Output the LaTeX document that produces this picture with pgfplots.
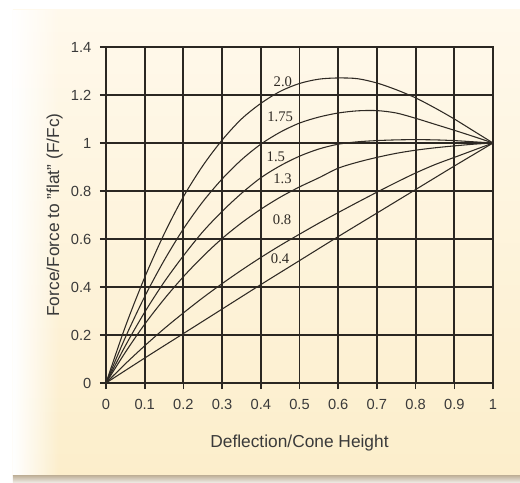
\documentclass[border=0pt]{standalone}
\usepackage{pgfplots}
\pgfplotsset{compat=1.18}
\usetikzlibrary{fadings}
\usepackage{fontspec}
\setmainfont{Liberation Sans}
\newfontfamily\serifnum{Liberation Serif}
\definecolor{creamtop}{HTML}{FFF9EC}
\definecolor{creambot}{HTML}{FCEECB}
\definecolor{gridc}{HTML}{2B2722}
\definecolor{curvec}{HTML}{2F2A24}
\definecolor{textc}{HTML}{3A3A3A}
\definecolor{shadowc}{HTML}{BDAE95}
\begin{document}
\begin{tikzpicture}
\useasboundingbox (-79.5pt,-74.25pt) rectangle (310.5pt,287.25pt);
\fill[white] (-79.5pt,-74.25pt) rectangle (310.5pt,287.25pt);
\shade[top color=creamtop, bottom color=creambot] (-69.75pt,-69pt) rectangle (310.5pt,279.75pt);
\fill[white, path fading=east] (-69.75pt,-69pt) rectangle (-35pt,279.75pt);
\shade[top color=shadowc, bottom color=white!70!shadowc] (-69.75pt,-74.25pt) rectangle (310.5pt,-69pt);
\begin{axis}[
  scale only axis,
  width=290.25pt, height=252pt,
  at={(0,0)}, anchor=south west,
  xmin=0, xmax=1, ymin=0, ymax=1.4,
  xtick={0,0.1,0.2,0.3,0.4,0.5,0.6,0.7,0.8,0.9,1},
  ytick={0,0.2,0.4,0.6,0.8,1,1.2,1.4},
  xtick pos=left, ytick pos=left,
  grid=major,
  major grid style={gridc, line width=1.4pt},
  axis line style={gridc, line width=1.4pt},
  tick style={gridc, line width=1.2pt},
  tick align=outside, major tick length=4.5pt,
  /pgf/number format/assume math mode=true,
  ticklabel style={font=\fontsize{11}{13}\selectfont, text=textc},
  xticklabel style={yshift=-4.5pt},
  yticklabel style={xshift=-3pt},
  xlabel={Deflection/Cone Height},
  ylabel={Force/Force to "flat" (F/Fc)},
  label style={font=\fontsize{13}{15}\selectfont, text=textc},
  xlabel style={at={(axis description cs:0.5,0)}, anchor=center, yshift=-45pt},
  ylabel style={at={(axis description cs:0,0.5)}, anchor=center, yshift=38.6pt},
]
% h/t = 2.0
\addplot[curvec, line width=0.8pt, smooth] coordinates {
(0,0) (0.05,0.235) (0.1,0.44) (0.15,0.62) (0.2,0.776) (0.25,0.905) (0.3,1.012)
(0.35,1.10) (0.4,1.165) (0.45,1.215) (0.5,1.248) (0.55,1.266) (0.6,1.271)
(0.65,1.268) (0.7,1.25) (0.75,1.222) (0.8,1.188) (0.85,1.146) (0.9,1.10)
(0.95,1.05) (1,1)};
% h/t = 1.75
\addplot[curvec, line width=0.8pt, smooth] coordinates {
(0,0) (0.05,0.19) (0.1,0.36) (0.15,0.51) (0.2,0.642) (0.25,0.755) (0.3,0.85)
(0.35,0.93) (0.4,0.995) (0.45,1.045) (0.5,1.083) (0.55,1.108) (0.6,1.125)
(0.65,1.134) (0.7,1.135) (0.75,1.125) (0.8,1.103) (0.85,1.078) (0.9,1.053)
(0.95,1.027) (1,1)};
% h/t = 1.5
\addplot[curvec, line width=0.8pt, smooth] coordinates {
(0,0) (0.05,0.155) (0.1,0.295) (0.15,0.42) (0.2,0.53) (0.25,0.63) (0.3,0.715)
(0.35,0.79) (0.4,0.855) (0.45,0.905) (0.5,0.945) (0.55,0.975) (0.6,0.995)
(0.65,1.005) (0.7,1.01) (0.75,1.013) (0.8,1.014) (0.85,1.013) (0.9,1.01)
(0.95,1.005) (1,1)};
% h/t = 1.3
\addplot[curvec, line width=0.8pt, smooth] coordinates {
(0,0) (0.05,0.128) (0.1,0.245) (0.15,0.349) (0.2,0.443) (0.25,0.527) (0.3,0.602)
(0.35,0.667) (0.4,0.724) (0.45,0.774) (0.5,0.817) (0.55,0.855) (0.6,0.895)
(0.65,0.92) (0.7,0.94) (0.75,0.957) (0.8,0.97) (0.85,0.98) (0.9,0.988)
(0.95,0.995) (1,1)};
% h/t = 0.8
\addplot[curvec, line width=0.8pt, smooth] coordinates {
(0,0) (0.05,0.08) (0.1,0.155) (0.15,0.226) (0.2,0.292) (0.25,0.355) (0.3,0.414)
(0.35,0.47) (0.4,0.523) (0.45,0.573) (0.5,0.62) (0.55,0.666) (0.6,0.71)
(0.65,0.753) (0.7,0.795) (0.75,0.836) (0.8,0.875) (0.85,0.91) (0.9,0.94)
(0.95,0.97) (1,1)};
% h/t = 0.4
\addplot[curvec, line width=0.8pt, smooth] coordinates {
(0,0) (0.1,0.104) (0.2,0.206) (0.3,0.308) (0.4,0.41) (0.5,0.51) (0.6,0.61)
(0.7,0.708) (0.8,0.806) (0.9,0.904) (1,1)};
\begin{scope}[every node/.style={font=\serifnum\fontsize{11}{13}\selectfont, text=curvec, fill=none, inner sep=0pt}]
\node at (axis cs:0.457,1.254) {2.0};
\node at (axis cs:0.450,1.108) {1.75};
\node at (axis cs:0.439,0.942) {1.5};
\node at (axis cs:0.456,0.850) {1.3};
\node at (axis cs:0.455,0.679) {0.8};
\node at (axis cs:0.450,0.519) {0.4};
\end{scope}
\end{axis}
\end{tikzpicture}
\end{document}
